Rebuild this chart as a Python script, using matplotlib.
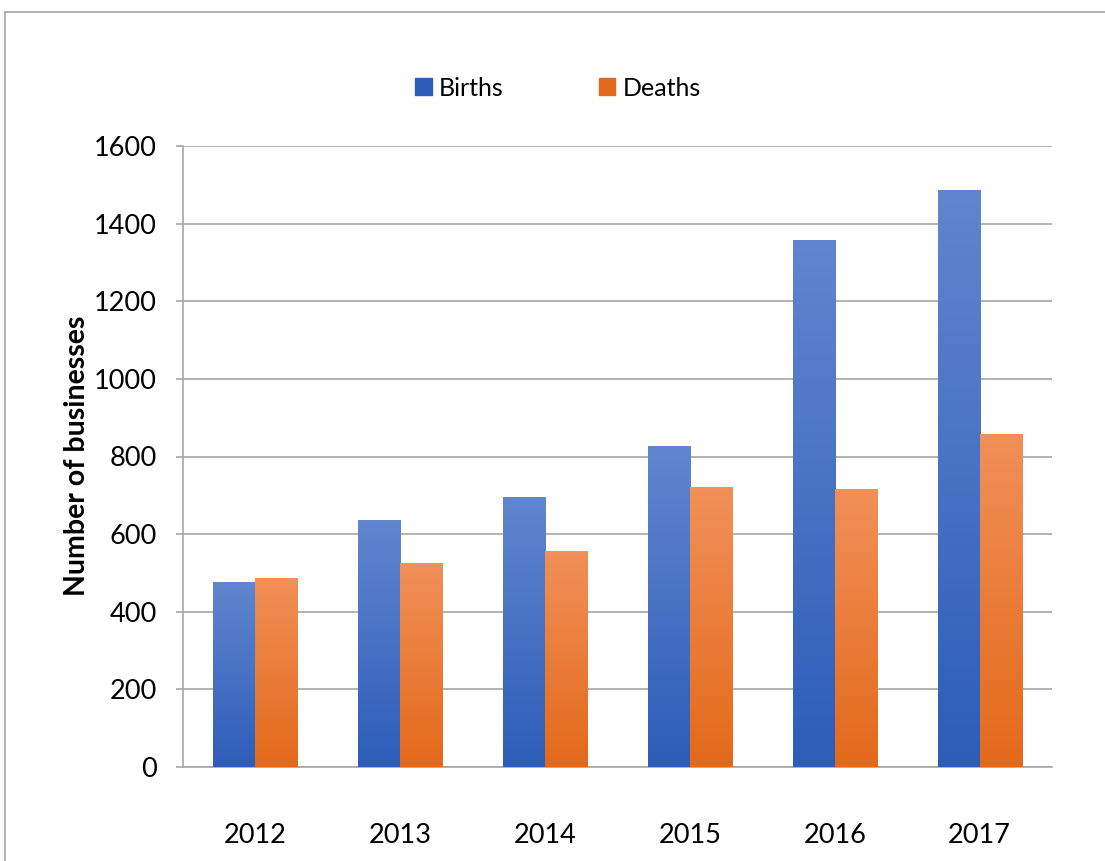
import numpy as np
import matplotlib
matplotlib.use("Agg")
import matplotlib.pyplot as plt
from matplotlib.colors import LinearSegmentedColormap
from matplotlib.patches import Rectangle
from matplotlib.lines import Line2D

years = ["2012", "2013", "2014", "2015", "2016", "2017"]
births = [477, 637, 696, 827, 1358, 1487]
deaths = [487, 526, 557, 722, 716, 858]
series_names = ["Births", "Deaths"]
y_ticks = [0, 200, 400, 600, 800, 1000, 1200, 1400, 1600]

blue_top, blue_bottom = "#6186CF", "#2D5DB8"
orange_top, orange_bottom = "#F19059", "#E3691A"

plt.rcParams["font.family"] = ["Lato", "DejaVu Sans"]

fig = plt.figure(figsize=(11.05, 8.61), dpi=100)
ax = fig.add_axes([183 / 1105, 1 - 767 / 861, (1052 - 183) / 1105, (767 - 146) / 861])

# outer chart frame (left and top edges visible)
fig.add_artist(Line2D([5 / 1105, 5 / 1105], [0, 1 - 12 / 861], transform=fig.transFigure,
                      color="#A6A6A6", lw=1.2))
fig.add_artist(Line2D([5 / 1105, 1.0], [1 - 12 / 861, 1 - 12 / 861], transform=fig.transFigure,
                      color="#A6A6A6", lw=1.2))

x = np.arange(len(years))
width = 0.29


def gradient_bars(xpos, values, top, bottom):
    cmap = LinearSegmentedColormap.from_list("g", [bottom, top])
    bars = ax.bar(xpos, values, width, color="none", edgecolor="none", zorder=3)
    grad = np.linspace(0, 1, 256).reshape(-1, 1)
    for b in bars:
        x0, w, h = b.get_x(), b.get_width(), b.get_height()
        im = ax.imshow(grad, cmap=cmap, aspect="auto", origin="lower",
                       extent=[x0, x0 + w, 0, h], zorder=3)
        im.set_clip_path(b)
    return bars


gradient_bars(x - width / 2, births, blue_top, blue_bottom)
gradient_bars(x + width / 2, deaths, orange_top, orange_bottom)

ax.set_xlim(-0.5, len(years) - 0.5)
ax.set_ylim(0, 1600)
ax.set_yticks(y_ticks)
ax.set_yticklabels([str(t) for t in y_ticks], fontsize=19.5)
ax.set_xticks(x)
ax.set_xticklabels(years, fontsize=19.5)
ax.tick_params(axis="x", length=0, pad=40)
ax.tick_params(axis="y", length=5, width=1.2, color="#A6A6A6", pad=14)

ax.grid(axis="y", color="#A6A6A6", lw=1.2, zorder=0)
ax.set_axisbelow(True)
for s in ["top", "right"]:
    ax.spines[s].set_visible(False)
for s in ["left", "bottom"]:
    ax.spines[s].set_color("#A6A6A6")
    ax.spines[s].set_linewidth(1.2)

fig.text(77 / 1105, 1 - 456 / 861, "Number of businesses", rotation=90, fontsize=20.5,
         fontweight="bold", ha="center", va="center")

handles = [Rectangle((0, 0), 1, 1, color=blue_bottom), Rectangle((0, 0), 1, 1, color=orange_bottom)]
fig.legend(handles, series_names, loc="center", bbox_to_anchor=(558 / 1105, 1 - 88 / 861),
           ncol=2, frameon=False, fontsize=18, handlelength=0.65, handleheight=0.65,
           handletextpad=0.3, columnspacing=3.8)

fig.savefig("out.png", dpi=100)
